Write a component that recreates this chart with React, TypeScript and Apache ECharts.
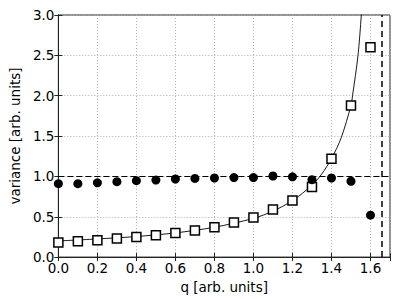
import React, { useEffect, useRef } from "react";
import * as echarts from "echarts";

const qValues = [0.0, 0.1, 0.2, 0.3, 0.4, 0.5, 0.6, 0.7, 0.8, 0.9, 1.0, 1.1, 1.2, 1.3, 1.4, 1.5, 1.6];
const squareValues = [0.18, 0.197, 0.21, 0.23, 0.25, 0.27, 0.3, 0.33, 0.37, 0.43, 0.49, 0.59, 0.7, 0.87, 1.22, 1.88, 2.6];
const circleValues = [0.91, 0.91, 0.92, 0.935, 0.947, 0.955, 0.968, 0.975, 0.98, 0.985, 0.985, 1.005, 0.995, 0.96, 0.98, 0.94, 0.52];
const curveQ = [0.0, 0.2, 0.4, 0.6, 0.8, 1.0, 1.1, 1.2, 1.3, 1.35, 1.4, 1.45, 1.5, 1.508, 1.536, 1.553, 1.57];
const curveV = [0.2, 0.225, 0.255, 0.3, 0.37, 0.48, 0.57, 0.7, 0.89, 1.03, 1.22, 1.48, 1.88, 2.0, 2.5, 3.0, 3.6];
const referenceLevel = 1.0;
const poleQ = 1.66;
const xTicks = { min: 0, max: 1.7, interval: 0.2 };
const yTicks = { min: 0, max: 3.0, interval: 0.5 };
const xTitle = "q [arb. units]";
const yTitle = "variance [arb. units]";

const FONT = "DejaVu Sans";

export default function App() {
  const ref = useRef<HTMLDivElement>(null);
  useEffect(() => {
    if (!ref.current) return;
    const chart = echarts.init(ref.current, null, { renderer: "svg" });
    const axisLineStyle = { color: "#222", width: 1 };
    const tickCommon = { show: true, inside: true, length: 4, lineStyle: { color: "#222", width: 1 } };
    chart.setOption({
      animation: false,
      backgroundColor: "#fff",
      grid: { left: 48, top: 15, right: 9, bottom: 40, show: true, borderColor: "#222", borderWidth: 1, backgroundColor: "transparent" },
      xAxis: [
        {
          type: "value",
          min: xTicks.min,
          max: xTicks.max,
          interval: xTicks.interval,
          name: xTitle,
          nameLocation: "middle",
          nameGap: 19,
          nameTextStyle: { fontFamily: FONT, fontSize: 13.5, color: "#000" },
          axisLine: { show: true, lineStyle: axisLineStyle },
          axisTick: tickCommon,
          axisLabel: {
            fontFamily: FONT,
            fontSize: 13.5,
            color: "#000",
            margin: 4,
            formatter: (v: number) => (v > 1.65 ? "" : v.toFixed(1)),
          },
          splitLine: { show: true, lineStyle: { color: "#b0b0b0", type: [1, 2], width: 1 } },
        },
        {
          type: "value",
          position: "top",
          min: xTicks.min,
          max: xTicks.max,
          interval: xTicks.interval,
          axisLine: { show: true, lineStyle: axisLineStyle },
          axisTick: tickCommon,
          axisLabel: { show: false },
          splitLine: { show: false },
        },
      ],
      yAxis: [
        {
          type: "value",
          min: yTicks.min,
          max: yTicks.max,
          interval: yTicks.interval,
          name: yTitle,
          nameLocation: "middle",
          nameGap: 30,
          nameTextStyle: { fontFamily: FONT, fontSize: 13.5, color: "#000" },
          axisLine: { show: true, lineStyle: axisLineStyle },
          axisTick: tickCommon,
          axisLabel: { fontFamily: FONT, fontSize: 13.5, color: "#000", margin: 4, formatter: (v: number) => v.toFixed(1) },
          splitLine: { show: true, lineStyle: { color: "#b0b0b0", type: [1, 2], width: 1 } },
        },
        {
          type: "value",
          position: "right",
          min: yTicks.min,
          max: yTicks.max,
          interval: yTicks.interval,
          axisLine: { show: true, lineStyle: axisLineStyle },
          axisTick: tickCommon,
          axisLabel: { show: false },
          splitLine: { show: false },
        },
      ],
      series: [
        {
          type: "line",
          data: curveQ.map((q, i) => [q, curveV[i]]),
          smooth: 0.3,
          showSymbol: false,
          symbol: "none",
          clip: true,
          lineStyle: { color: "#000", width: 0.9 },
          z: 2,
          markLine: {
            silent: true,
            symbol: "none",
            label: { show: false },
            data: [
              { yAxis: referenceLevel, lineStyle: { color: "#000", type: [6, 3], width: 1 } },
              { xAxis: poleQ, lineStyle: { color: "#000", type: [6, 4], width: 1.5 } },
            ],
          },
        },
        {
          type: "scatter",
          data: qValues.map((q, i) => [q, squareValues[i]]),
          symbol: "rect",
          symbolSize: 9,
          itemStyle: { color: "#fff", borderColor: "#000", borderWidth: 1.5, opacity: 1 },
          z: 4,
        },
        {
          type: "scatter",
          data: qValues.map((q, i) => [q, circleValues[i]]),
          symbol: "circle",
          symbolSize: 9,
          itemStyle: { color: "#000", opacity: 1 },
          z: 5,
        },
      ],
    });
    return () => chart.dispose();
  }, []);
  return <div ref={ref} style={{ width: 399, height: 299, position: "absolute", left: 0, top: 0 }} />;
}
